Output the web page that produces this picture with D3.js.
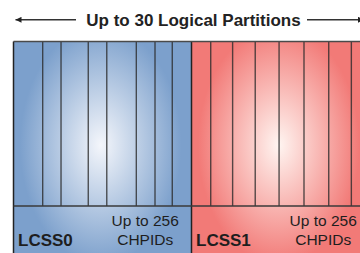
<!DOCTYPE html>
<html>
<head>
<meta charset="utf-8">
<script src="https://cdn.jsdelivr.net/npm/d3@7"></script>
<style>
  body { margin: 0; background: #fff; }
  svg { display: block; font-family: "Liberation Sans", Arial, sans-serif; }
</style>
</head>
<body>
<script>
// chart data
var titleText = "Up to 30 Logical Partitions";
var lcssNames = ["LCSS0", "LCSS1"];
var chpidLines = ["Up to 256", "CHPIDs"];
// partition divider positions inside each LCSS (percent of its width)
var lcss0Dividers = [16.4, 26.7, 42.0, 52.4, 69.0, 79.5, 89.2];
var lcss1Dividers = [10.8, 23.1, 35.8, 49.2, 63.2, 77.1, 89.8];
var lcssColors = [["#f4f6fb", "#7ca0cc"], ["#fff5f1", "#f27a77"]];

var width = 360, height = 253;
var svg = d3.select("body").append("svg")
  .attr("width", width).attr("height", height);

// one band per LCSS, each band 0..100 inside
var band = d3.scaleBand().domain(lcssNames).range([13.5, 369.5]).padding(0);
var topY = 41.5, splitY = 206, bottomY = 262;
var y = d3.scaleLinear().domain([0, 1]).range([topY, bottomY]);

var defs = svg.append("defs");
lcssNames.forEach(function (n, i) {
  var x0 = band(n), bw = band.bandwidth();
  var cx = x0 + bw * 0.49, cy = 145;
  var g = defs.append("radialGradient").attr("id", "grad" + i)
    .attr("gradientUnits", "userSpaceOnUse")
    .attr("cx", cx).attr("cy", cy).attr("r", 95)
    .attr("gradientTransform", "translate(" + cx + "," + cy + ") scale(0.85,1.25) translate(" + (-cx) + "," + (-cy) + ")");
  g.append("stop").attr("offset", "0%").attr("stop-color", lcssColors[i][0]);
  g.append("stop").attr("offset", "100%").attr("stop-color", lcssColors[i][1]);
});

var dividers = [lcss0Dividers, lcss1Dividers];

var panels = svg.selectAll("g.lcss").data(lcssNames).enter().append("g")
  .attr("class", "lcss");

panels.append("rect")
  .attr("x", function (d) { return band(d); })
  .attr("y", y(0))
  .attr("width", band.bandwidth())
  .attr("height", y(1) - y(0))
  .attr("fill", function (d, i) { return "url(#grad" + i + ")"; });

panels.each(function (d, i) {
  var px = d3.scaleLinear().domain([0, 100]).range([band(d), band(d) + band.bandwidth()]);
  d3.select(this).selectAll("line.div").data(dividers[i]).enter().append("line")
    .attr("class", "div")
    .attr("x1", function (v) { return px(v); })
    .attr("x2", function (v) { return px(v); })
    .attr("y1", topY).attr("y2", splitY)
    .attr("stroke", "#2b2b2b").attr("stroke-opacity", 0.8).attr("stroke-width", 1.4);

  d3.select(this).append("text")
    .attr("x", px(0) + 4.5).attr("y", 245.5)
    .attr("font-size", 17).attr("font-weight", "bold").attr("fill", "#1e1e1e")
    .text(d);

  d3.select(this).selectAll("text.chpid").data(chpidLines).enter().append("text")
    .attr("class", "chpid")
    .attr("x", px(74)).attr("y", function (t, j) { return 226 + j * 18.5; })
    .attr("text-anchor", "middle")
    .attr("font-size", 15.5).attr("fill", "#1e1e1e")
    .text(function (t) { return t; });
});

// LCSS boundaries
svg.selectAll("line.edge").data([band("LCSS0"), band("LCSS1")]).enter().append("line")
  .attr("x1", function (v) { return v; }).attr("x2", function (v) { return v; })
  .attr("y1", topY).attr("y2", height)
  .attr("stroke", "#222").attr("stroke-width", 1.5);

// top border and split line
svg.append("line").attr("x1", 13.5).attr("x2", width).attr("y1", topY).attr("y2", topY)
  .attr("stroke", "#4a4a4a").attr("stroke-width", 1.5);
svg.append("line").attr("x1", 13.5).attr("x2", width).attr("y1", splitY).attr("y2", splitY)
  .attr("stroke", "#3a3a3a").attr("stroke-width", 1.6);

// title with arrows
svg.append("text").attr("x", 193.5).attr("y", 25.5)
  .attr("text-anchor", "middle").attr("font-size", 17).attr("font-weight", "bold")
  .attr("fill", "#222").text(titleText);

defs.append("marker").attr("id", "arrow").attr("viewBox", "0 0 10 10")
  .attr("refX", 10).attr("refY", 5).attr("markerWidth", 8).attr("markerHeight", 6)
  .attr("markerUnits", "userSpaceOnUse").attr("orient", "auto")
  .append("path").attr("d", "M0,0 L10,5 L0,10 Z").attr("fill", "#222");

svg.append("line").attr("x1", 76).attr("x2", 15.5).attr("y1", 19.8).attr("y2", 19.8)
  .attr("stroke", "#333").attr("stroke-width", 1.4).attr("marker-end", "url(#arrow)");
svg.append("line").attr("x1", 307).attr("x2", 364).attr("y1", 19.8).attr("y2", 19.8)
  .attr("stroke", "#333").attr("stroke-width", 1.4).attr("marker-end", "url(#arrow)");
</script>
</body>
</html>
